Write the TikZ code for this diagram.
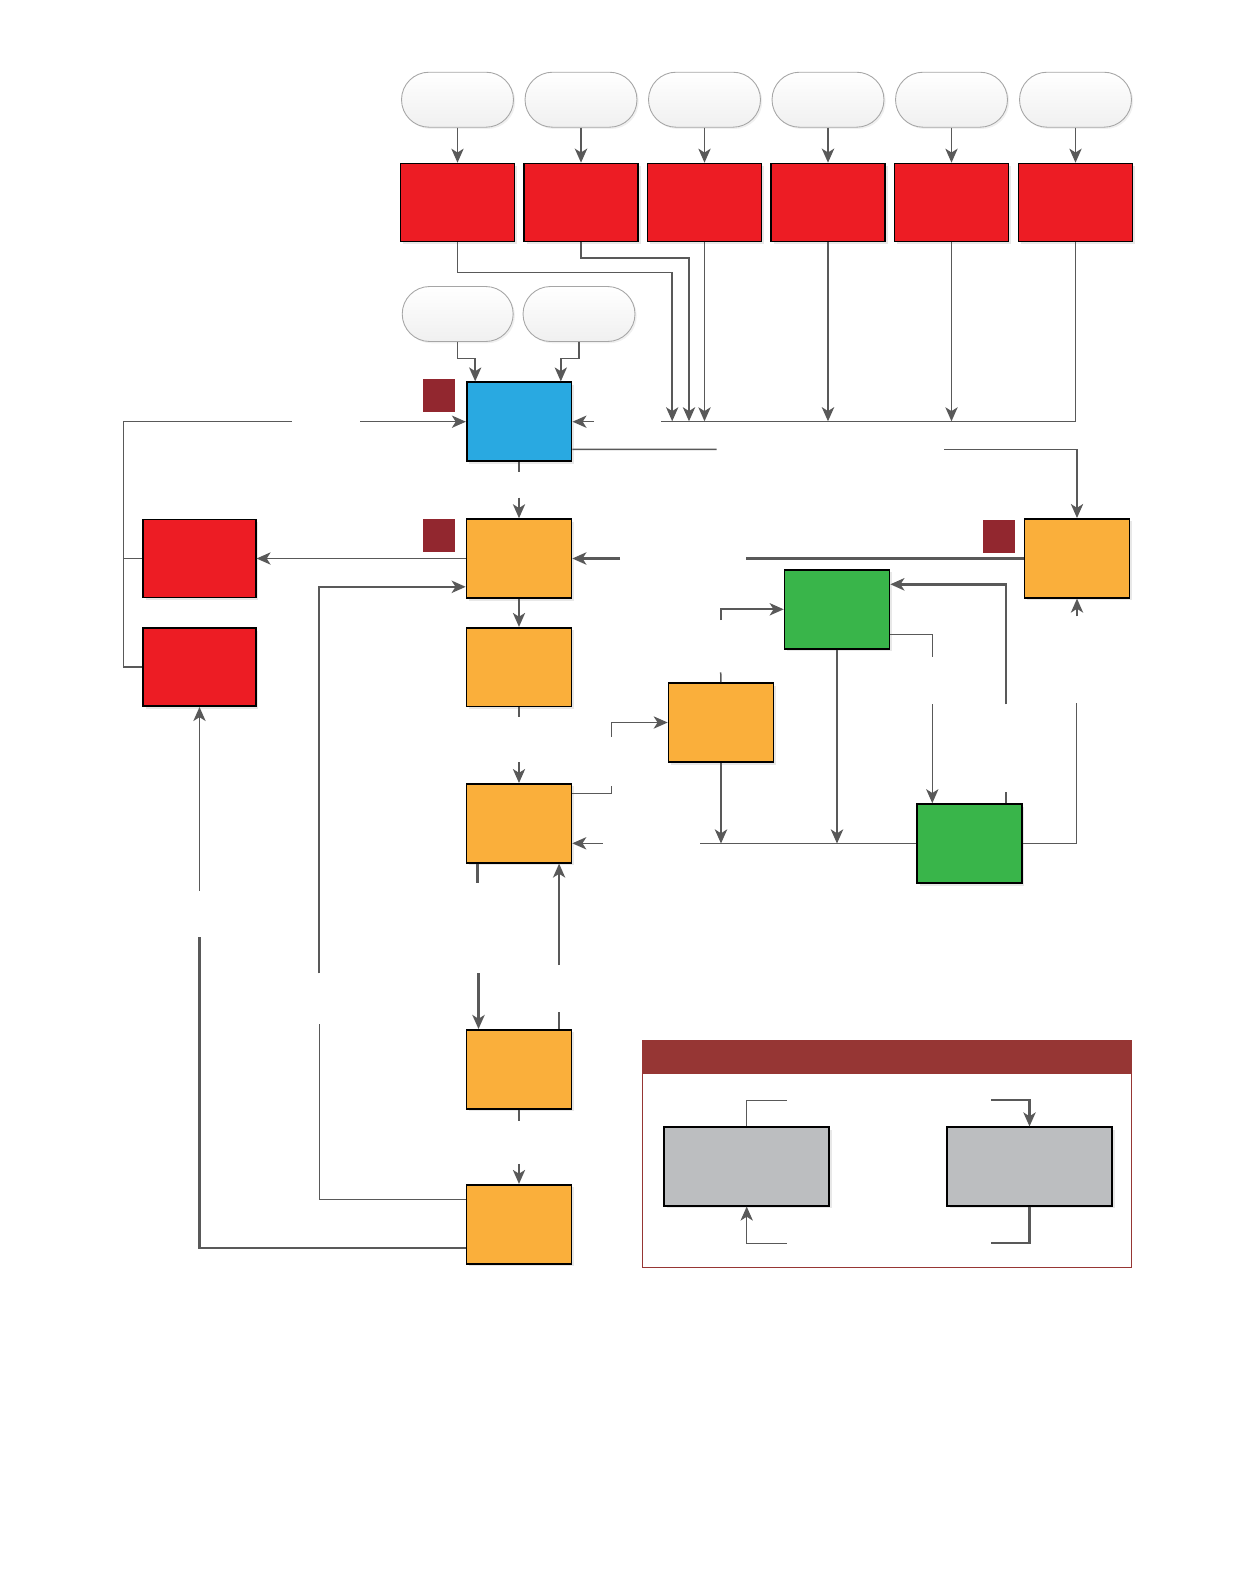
\documentclass[tikz,border=0pt]{standalone}
\usetikzlibrary{arrows.meta, shapes.misc, shadows, calc}
\definecolor{boxred}{RGB}{237,28,36}
\definecolor{boxorange}{RGB}{250,175,59}
\definecolor{boxblue}{RGB}{41,169,225}
\definecolor{boxgreen}{RGB}{57,181,74}
\definecolor{boxgray}{RGB}{188,190,192}
\definecolor{tagred}{RGB}{146,39,47}
\definecolor{keyred}{RGB}{150,54,52}
\definecolor{wire}{RGB}{89,89,89}

\begin{document}
\begin{tikzpicture}[
  x=0.02cm, y=-0.02cm,
  box/.style={draw=black, line width=0.9pt, minimum width=2.1cm, minimum height=1.58cm, inner sep=0pt,
    drop shadow={shadow xshift=1.5pt, shadow yshift=-1.5pt, opacity=0.18}},
  redbox/.style={box, fill=boxred, minimum width=2.28cm, minimum height=1.56cm},
  bluebox/.style={box, fill=boxblue},
  orangebox/.style={box, fill=boxorange},
  greenbox/.style={box, fill=boxgreen},
  graybox/.style={box, fill=boxgray, minimum width=3.3cm, minimum height=1.57cm},
  term/.style={rounded rectangle, draw=gray!70, line width=0.5pt, top color=white, bottom color=gray!12,
    minimum width=2.24cm, minimum height=1.1cm, inner sep=0pt,
    drop shadow={shadow xshift=1pt, shadow yshift=-1pt, opacity=0.12}},
  tag/.style={fill=tagred, minimum width=0.64cm, minimum height=0.66cm, inner sep=0pt},
  line/.style={draw=wire, line width=0.85pt},
  arrow/.style={line, -{Stealth[length=8pt, width=7pt, inset=2.2pt]}}
]
  \useasboundingbox (0,0) rectangle (1242,1593);

  % sources and top row
  \foreach \i/\x/\w in {1/457.5/0.85pt, 2/581/1.4pt, 3/704.5/0.85pt, 4/828/1.4pt, 5/951.5/0.85pt, 6/1075.5/0.85pt} {
    \node[term] (t\i) at (\x,99.7) {};
    \node[redbox] (r\i) at (\x,202.5) {};
    \draw[arrow, line width=\w] (t\i) -- (r\i);
  }
  \node[term, minimum width=2.22cm] (s1) at (457.7,314) {};
  \node[term, minimum width=2.24cm] (s2) at (579,314) {};

  % main column
  \node[bluebox] (b) at (519.2,421.7) {};
  \node[orangebox] (o1) at (519,558.5) {};
  \node[orangebox] (o2) at (519,667.2) {};
  \node[orangebox] (o3) at (519,823.3) {};
  \node[orangebox] (o5) at (519,1069.3) {};
  \node[orangebox] (o6) at (519,1224.2) {};
  \node[redbox, minimum width=2.25cm] (rl1) at (199.5,558.5) {};
  \node[redbox, minimum width=2.25cm] (rl2) at (199.5,667.2) {};

  % right part
  \node[orangebox] (or) at (1077,558.3) {};
  \node[greenbox] (g1) at (837,609.3) {};
  \node[orangebox] (om) at (721,722.5) {};
  \node[greenbox, minimum width=2.09cm] (g2) at (969.5,843.5) {};

  \node[tag] (k1) at (438.5,395.5) {};
  \node[tag] (k2) at (438.5,535.3) {};
  \node[tag] (k3) at (999.3,536) {};

  % free ends
  \coordinate (row1) at (0,272.7);
  \coordinate (row2) at (0,257.7);
  \coordinate (kink) at (0,358.3);
  \coordinate (in1) at (672.2,421.3);
  \coordinate (in2) at (689,421.3);
  \coordinate (busL) at (661.2,421.3);
  \coordinate (spine) at (123.3,0);
  \coordinate (gapA) at (291.7,421.3);
  \coordinate (gapB) at (360,421.7);
  \coordinate (bOutA) at (716.7,449.3);
  \coordinate (bOutB) at (944.3,449.3);
  \coordinate (midL) at (746,558.3);
  \coordinate (midR) at (620,558.5);
  \coordinate (orUp) at (1076.7,703.3);
  \coordinate (gIn) at (720.7,620);
  \coordinate (gTop) at (720.7,672.3);
  \coordinate (omIn) at (611.7,736.7);
  \coordinate (o3Out) at (611.7,785.7);
  \coordinate (bus2) at (700,843.5);
  \coordinate (o3In) at (602.7,843.3);
  \coordinate (gDn) at (932.3,657.3);
  \coordinate (gDnB) at (932.3,704);
  \coordinate (gBack) at (1006,704.3);
  \coordinate (dnA) at (478.5,973.3);
  \coordinate (upA) at (559.1,965);
  \coordinate (loopA) at (319.3,1024);
  \coordinate (loopB) at (319.3,973.3);
  \coordinate (loopC) at (199.5,937.3);
  \coordinate (loopD) at (199.5,890.7);

  % bus from the top row
  \draw[arrow] (r1.south) |- (row1 -| in1) -- (in1);
  \draw[arrow, line width=1.2pt] (r2.south) |- (row2 -| in2) -- (in2);
  \draw[arrow] (r3.south) -- (r3.south |- busL);
  \draw[arrow, line width=1.4pt] (r4.south) -- (r4.south |- busL);
  \draw[arrow] (r5.south) -- (r5.south |- busL);
  \draw[line] (busL) -| (r6.south);

  \draw[arrow] (s1.south) |- (kink -| {$(b.north)+(-44,0)$}) -- ($(b.north)+(-44,0)$);
  \draw[arrow] (s2.south) |- (kink -| {$(b.north)+(41.6,0)$}) -- ($(b.north)+(41.6,0)$);

  % blue box
  \draw[line] (gapA) -| (spine |- rl2.west) -- (rl2.west);
  \draw[line] (spine |- rl1.west) -- (rl1.west);
  \draw[arrow] (gapB) -- (b.west);
  \draw[arrow] ($(b.east)+(21.6,0)$) -- (b.east);
  \draw[line] ($(b.east)+(0,27.6)$) -- (bOutA);
  \draw[arrow] (bOutB) -| (or.north);
  \draw[line] (b.south) -- ++(0,9.7);

  % main column
  \draw[arrow] ($(o1.north)+(0,-20.7)$) -- (o1.north);
  \draw[arrow] (o1.west) -- (rl1.east);
  \draw[arrow, line width=1.5pt] (midR) -- (o1.east);
  \draw[line, line width=1.5pt] (or.west) -- (midL);
  \draw[arrow] (o1) -- (o2);
  \draw[line] (o2.south) -- ++(0,10);
  \draw[arrow] ($(o3.north)+(0,-21)$) -- (o3.north);
  \draw[line] ($(o3.north east)+(0,10.7)$) -| (o3Out);
  \draw[arrow] (omIn) |- (om.west);
  \draw[arrow] (o3In) -- ($(o3.east)+(0,20)$);
  \draw[line, line width=1.5pt] ($(o3.south west)+(12,0)$) -- ++(0,19.4);
  \draw[arrow, line width=1.5pt] (dnA) -- (dnA |- o5.north);
  \draw[arrow] (upA) -- (upA |- o3.south);
  \draw[line] (upA |- o5.north) -- ++(0,-17.3);
  \draw[line] (o5.south) -- ++(0,11);
  \draw[arrow] ($(o6.north)+(0,-20)$) -- (o6.north);
  \draw[line] ($(o6.west)+(0,-24.9)$) -| (loopA);
  \draw[arrow, line width=1.3pt] (loopB) |- ($(o1.west)+(0,28.3)$);
  \draw[line, line width=1.3pt] ($(o6.west)+(0,24.1)$) -| (loopC);
  \draw[arrow] (loopD) -- (rl2.south);

  % right part
  \draw[arrow] ($(or.south)+(0,17.7)$) -- (or.south);
  \draw[line] (orUp) |- (g2.east);
  \draw[arrow, line width=1.2pt] (gIn) |- (g1.west);
  \draw[line] (gTop) -- (om.north);
  \draw[arrow, line width=1.5pt] (om.south) -- (om.south |- bus2);
  \draw[arrow, line width=1.5pt] (g1.south) -- (g1.south |- bus2);
  \draw[line] (bus2) -- (g2.west);
  \draw[line] ($(g1.east)+(0,25)$) -| (gDn);
  \draw[arrow] (gDnB) -- (gDnB |- g2.north);
  \draw[arrow, line width=1.5pt] (gBack) |- ($(g1.east)+(0,-25)$);
  \draw[line, line width=1.5pt] (gBack |- g2.north) -- ++(0,-11);

  % key
  \draw[keyred, line width=0.8pt] (642.3,1041) rectangle (1131.3,1267.3);
  \fill[keyred] (642.3,1041) rectangle (1131.3,1073.7);
  \node[graybox] (ga) at (746.7,1166.5) {};
  \node[graybox] (gb) at (1029.5,1166.5) {};
  \coordinate (gaTop) at (786.7,1100.3);
  \coordinate (gaBot) at (786.7,1243.3);
  \coordinate (gbTop) at (991,1100.3);
  \coordinate (gbBot) at (991,1243.3);
  \draw[line] (ga.north) |- (gaTop);
  \draw[arrow] (gaBot) -| (ga.south);
  \draw[arrow, line width=1.2pt] (gbTop) -| (gb.north);
  \draw[line, line width=1.2pt] (gb.south) |- (gbBot);
\end{tikzpicture}
\end{document}
